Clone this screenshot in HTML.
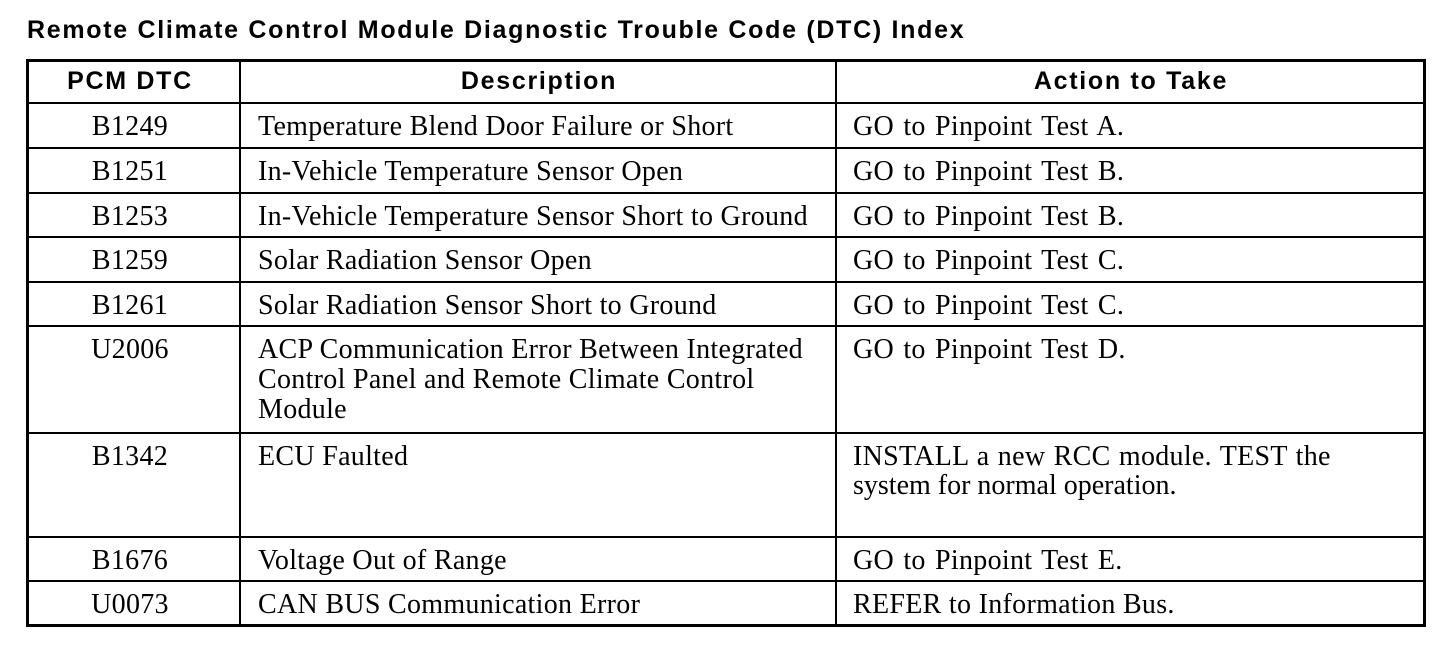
<!DOCTYPE html>
<html>
<head>
<meta charset="utf-8">
<style>
  html, body { margin:0; padding:0; background:#fff; }
  body { width:1456px; height:648px; position:relative; overflow:hidden; }
  .sans { font-family:"Liberation Sans", Arial, sans-serif; font-weight:bold; font-size:25px; line-height:28px; letter-spacing:1.7px; color:#000; position:absolute; white-space:nowrap; }
  .ser { font-family:"Liberation Serif", "Times New Roman", serif; font-size:28px; line-height:30px; letter-spacing:0.3px; color:#000; position:absolute; white-space:nowrap; }
  .c1 { left:27px; width:206px; text-align:center; }
  .c2 { left:258px; }
  .c3 { left:853px; }
  .go { word-spacing:2px; }
  .h { position:absolute; left:26px; width:1400px; height:2px; background:#000; }
  .v { position:absolute; top:59px; height:568px; width:2px; background:#000; }
</style>
</head>
<body>
<div class="sans" style="left:27px; top:16px;">Remote Climate Control Module Diagnostic Trouble Code (DTC) Index</div>

<div style="position:absolute; left:26px; top:59px; width:1400px; height:568px; border:3px solid #000; box-sizing:border-box;"></div>
<div class="v" style="left:239px;"></div>
<div class="v" style="left:835px;"></div>

<div class="h" style="top:102px;"></div>
<div class="h" style="top:147px;"></div>
<div class="h" style="top:192px;"></div>
<div class="h" style="top:236px;"></div>
<div class="h" style="top:281px;"></div>
<div class="h" style="top:325px;"></div>
<div class="h" style="top:432px;"></div>
<div class="h" style="top:536px;"></div>
<div class="h" style="top:580px;"></div>

<!-- header -->
<div class="sans c1" style="top:67px;">PCM DTC</div>
<div class="sans" style="left:241px; width:596px; text-align:center; top:67px;">Description</div>
<div class="sans" style="left:837px; width:588px; text-align:center; top:67px;">Action to Take</div>

<!-- rows -->
<div class="ser c1" style="top:112px;">B1249</div>
<div class="ser c2" style="top:112px;">Temperature Blend Door Failure or Short</div>
<div class="ser c3 go" style="top:112px;">GO to Pinpoint Test A.</div>

<div class="ser c1" style="top:157px;">B1251</div>
<div class="ser c2" style="top:157px;">In-Vehicle Temperature Sensor Open</div>
<div class="ser c3 go" style="top:157px;">GO to Pinpoint Test B.</div>

<div class="ser c1" style="top:202px;">B1253</div>
<div class="ser c2" style="top:202px;">In-Vehicle Temperature Sensor Short to Ground</div>
<div class="ser c3 go" style="top:202px;">GO to Pinpoint Test B.</div>

<div class="ser c1" style="top:246px;">B1259</div>
<div class="ser c2" style="top:246px;">Solar Radiation Sensor Open</div>
<div class="ser c3 go" style="top:246px;">GO to Pinpoint Test C.</div>

<div class="ser c1" style="top:291px;">B1261</div>
<div class="ser c2" style="top:291px;">Solar Radiation Sensor Short to Ground</div>
<div class="ser c3 go" style="top:291px;">GO to Pinpoint Test C.</div>

<div class="ser c1" style="top:335px;">U2006</div>
<div class="ser c2" style="top:335px;">ACP Communication Error Between Integrated<br>Control Panel and Remote Climate Control<br>Module</div>
<div class="ser c3 go" style="top:335px;">GO to Pinpoint Test D.</div>

<div class="ser c1" style="top:442px;">B1342</div>
<div class="ser c2" style="top:442px;">ECU Faulted</div>
<div class="ser c3" style="top:442px; line-height:29px; word-spacing:1px;">INSTALL a new RCC module. TEST the<br><span style="word-spacing:0; letter-spacing:0;">system for normal operation.</span></div>

<div class="ser c1" style="top:546px;">B1676</div>
<div class="ser c2" style="top:546px;">Voltage Out of Range</div>
<div class="ser c3 go" style="top:546px;">GO to Pinpoint Test E.</div>

<div class="ser c1" style="top:590px;">U0073</div>
<div class="ser c2" style="top:590px;">CAN BUS Communication Error</div>
<div class="ser c3" style="top:590px;">REFER to Information Bus.</div>
</body>
</html>
